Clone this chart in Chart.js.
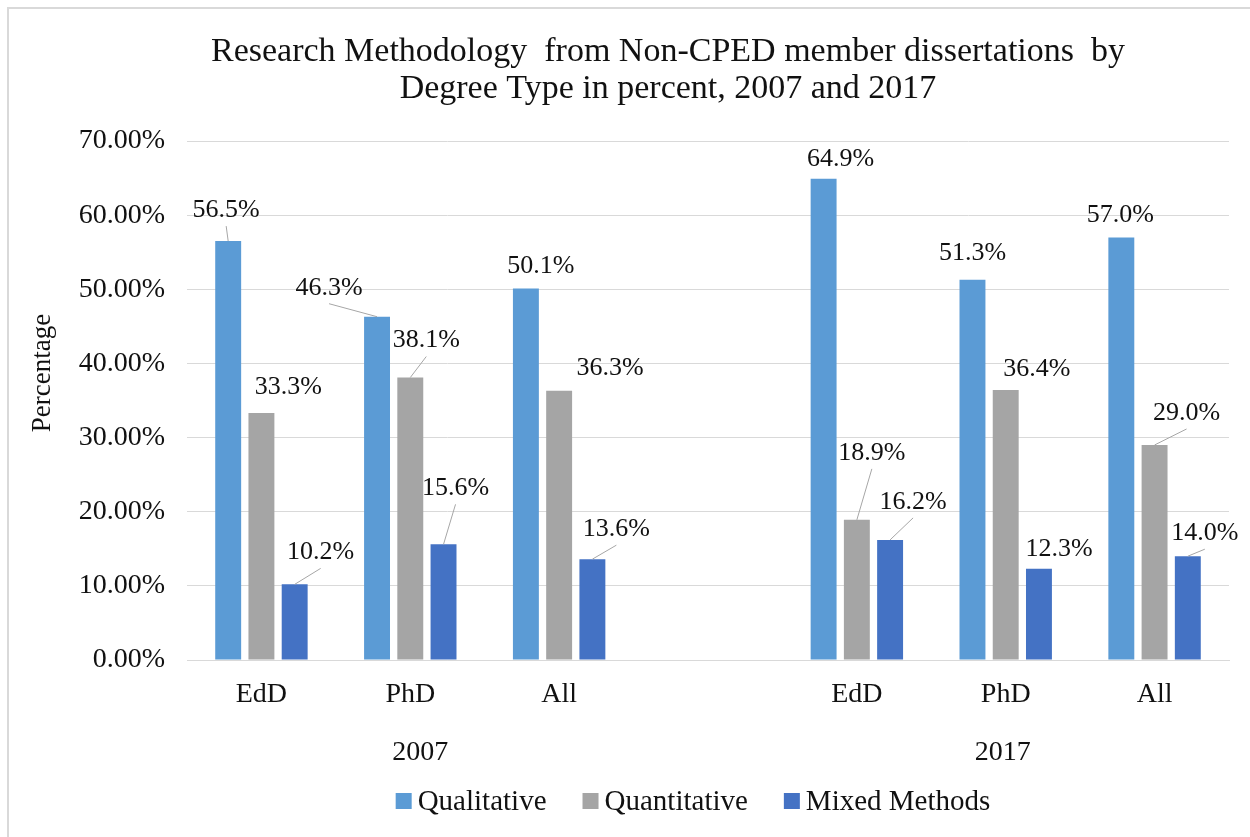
<!DOCTYPE html>
<html>
<head>
<meta charset="utf-8">
<title>Research Methodology from Non-CPED member dissertations</title>
<script src="https://cdn.jsdelivr.net/npm/chart.js@4.4.1/dist/chart.umd.min.js"></script>
<style>
  html, body { margin: 0; padding: 0; background: #fff; overflow: hidden; }
  #wrap { position: relative; width: 1250px; height: 837px; }
</style>
</head>
<body>
<div id="wrap"><canvas id="methodChart"></canvas></div>
<script>
// Chart data
const categories = ['EdD', 'PhD', 'All', '', 'EdD', 'PhD', 'All'];
const groupLabels = ['2007', '2017'];
const groupCategory = [1, 5];
const seriesNames = ['Qualitative', 'Quantitative', 'Mixed Methods'];
const qualitative = [56.5, 46.3, 50.1, null, 64.9, 51.3, 57.0];
const quantitative = [33.3, 38.1, 36.3, null, 18.9, 36.4, 29.0];
const mixedMethods = [10.2, 15.6, 13.6, null, 16.2, 12.3, 14.0];
const yTicks = [0, 10, 20, 30, 40, 50, 60, 70];

const seriesColors = ['#5B9BD5', '#A5A5A5', '#4472C4'];
const FONT = '"Liberation Serif", "Times New Roman", serif';
const TEXT = '#111111';

// where each data label sits relative to the top of its bar: [dx, dy, leader line]
const labelPlacement = [
    [[-2, -32, 1], [-48, -30, 1], [15, -23, 0], null, [17, -21, 0], [0, -27, 0], [-1, -23, 0]],
    [[27, -27, 0], [16, -38, 1], [51, -24, 0], null, [15, -68, 1], [31, -22, 0], [32, -33, 1]],
    [[26, -33, 1], [12, -57, 1], [24, -31, 1], null, [23, -39, 1], [20, -21, 0], [17, -24, 1]]
];
// small nudges of the year labels off their category centre
const groupNudge = [10, -3];

// Title, axis title, group labels, data labels and legend
const decorPlugin = {
    id: 'decor',
    beforeDraw(chart) {
        const ctx = chart.ctx;
        ctx.save();
        ctx.strokeStyle = '#d9d9d9';
        ctx.lineWidth = 2;
        ctx.strokeRect(8, 8, chart.width, chart.height);
        ctx.restore();
    },
    afterDatasetsDraw(chart) {
        const ctx = chart.ctx;
        ctx.save();
        ctx.font = '26px ' + FONT;
        ctx.textAlign = 'center';
        ctx.textBaseline = 'middle';
        chart.data.datasets.forEach((ds, i) => {
            const meta = chart.getDatasetMeta(i);
            meta.data.forEach((bar, j) => {
                const v = ds.data[j];
                const place = labelPlacement[i][j];
                if (v === null || !place) return;
                const lx = bar.x + place[0];
                const ly = bar.y + place[1];
                if (place[2]) {
                    ctx.strokeStyle = '#a6a6a6';
                    ctx.lineWidth = 1;
                    ctx.beginPath();
                    ctx.moveTo(bar.x, bar.y);
                    ctx.lineTo(lx, ly + 17);
                    ctx.stroke();
                }
                ctx.fillStyle = TEXT;
                ctx.fillText(v.toFixed(1) + '%', lx, ly + 1);
            });
        });
        ctx.restore();
    },
    afterDraw(chart) {
        const ctx = chart.ctx;
        const xScale = chart.scales.x;
        ctx.save();
        ctx.fillStyle = TEXT;
        ctx.textBaseline = 'middle';
        ctx.textAlign = 'center';

        // title
        ctx.font = '34px ' + FONT;
        ctx.fillText('Research Methodology  from Non-CPED member dissertations  by', 668, 52);
        ctx.fillText('Degree Type in percent, 2007 and 2017', 668, 89);

        // y axis title
        ctx.save();
        ctx.translate(43, 373);
        ctx.rotate(-Math.PI / 2);
        ctx.font = '27px ' + FONT;
        ctx.fillText('Percentage', 0, 0);
        ctx.restore();

        // year group labels
        ctx.font = '28px ' + FONT;
        groupLabels.forEach((g, i) => {
            ctx.fillText(g, xScale.getPixelForValue(groupCategory[i]) + groupNudge[i], 753);
        });

        // legend
        ctx.font = '29px ' + FONT;
        ctx.textAlign = 'left';
        const box = 16, gap = 6, itemGap = 36;
        const widths = seriesNames.map(n => ctx.measureText(n).width);
        let total = widths.reduce((a, b) => a + b, 0) + seriesNames.length * (box + gap) + (seriesNames.length - 1) * itemGap;
        const area = chart.chartArea;
        let x = (area.left + area.right) / 2 - 15 - total / 2;
        const y = 802;
        seriesNames.forEach((n, i) => {
            ctx.fillStyle = seriesColors[i];
            ctx.fillRect(x, y - box / 2 - 1, box, box);
            ctx.fillStyle = TEXT;
            ctx.fillText(n, x + box + gap, y);
            x += box + gap + widths[i] + itemGap;
        });
        ctx.restore();
    }
};

const ctx = document.getElementById('methodChart');
new Chart(ctx, {
    type: 'bar',
    data: {
        labels: categories,
        datasets: [
            { label: seriesNames[0], data: qualitative, backgroundColor: seriesColors[0] },
            { label: seriesNames[1], data: quantitative, backgroundColor: seriesColors[1] },
            { label: seriesNames[2], data: mixedMethods, backgroundColor: seriesColors[2] }
        ]
    },
    options: {
        responsive: true,
        maintainAspectRatio: false,
        animation: false,
        devicePixelRatio: 1,
        datasets: {
            bar: { categoryPercentage: 0.67, barPercentage: 0.78 }
        },
        layout: {
            padding: { top: 141, right: 21, bottom: 0, left: 0 }
        },
        plugins: {
            legend: { display: false },
            title: { display: false },
            tooltip: { enabled: false }
        },
        scales: {
            x: {
                grid: { display: false, drawTicks: false },
                border: { display: true, color: '#d9d9d9', width: 1 },
                ticks: {
                    color: TEXT,
                    font: { family: FONT, size: 28 },
                    padding: 18,
                    maxRotation: 0,
                    autoSkip: false
                },
                afterFit(scale) { scale.height = 177; }
            },
            y: {
                min: yTicks[0],
                max: yTicks[yTicks.length - 1],
                grid: { color: '#d9d9d9', lineWidth: 1, drawTicks: false },
                border: { display: false },
                ticks: {
                    stepSize: yTicks[1] - yTicks[0],
                    color: TEXT,
                    font: { family: FONT, size: 28 },
                    padding: 22,
                    callback: v => v.toFixed(2) + '%'
                },
                afterFit(scale) { scale.width = 187; }
            }
        }
    },
    plugins: [decorPlugin]
});
</script>
</body>
</html>
